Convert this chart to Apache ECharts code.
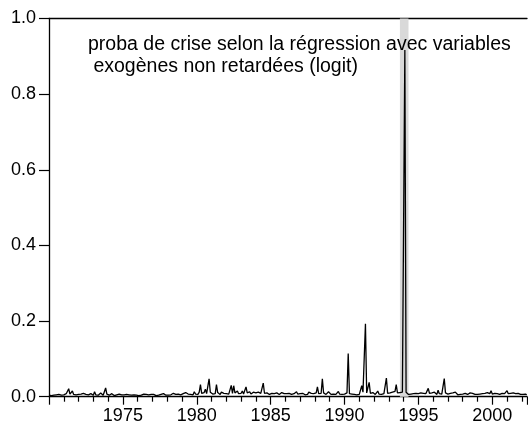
<!DOCTYPE html>
<html>
<head>
<meta charset="utf-8">
<script src="https://cdn.jsdelivr.net/npm/echarts@6/dist/echarts.min.js"></script>
<style>
  html, body { margin: 0; padding: 0; background: #fff; }
  #chart { width: 528px; height: 435px; }
</style>
</head>
<body>
<div id="chart"></div>
<script>
// probabilité mensuelle de crise (logit), janvier 1970 -> mai 2002
var startYear = 1970;
var p1970 = [0.004, 0.006, 0.003, 0.005, 0.004, 0.008, 0.005, 0.004, 0.006, 0.005, 0.004, 0.007];
var p1971 = [0.005, 0.004, 0.008, 0.006, 0.021, 0.007, 0.005, 0.015, 0.006, 0.010, 0.005, 0.004];
var p1972 = [0.006, 0.004, 0.007, 0.005, 0.009, 0.004, 0.006, 0.010, 0.005, 0.004, 0.008, 0.005];
var p1973 = [0.004, 0.013, 0.005, 0.007, 0.004, 0.006, 0.010, 0.005, 0.004, 0.009, 0.023, 0.007];
var p1974 = [0.006, 0.004, 0.005, 0.008, 0.004, 0.003, 0.006, 0.005, 0.004, 0.007, 0.004, 0.005];
var p1975 = [0.004, 0.005, 0.003, 0.006, 0.004, 0.005, 0.007, 0.004, 0.003, 0.005, 0.006, 0.004];
var p1976 = [0.005, 0.003, 0.006, 0.004, 0.005, 0.007, 0.004, 0.006, 0.003, 0.005, 0.004, 0.006];
var p1977 = [0.004, 0.006, 0.005, 0.003, 0.007, 0.004, 0.005, 0.006, 0.004, 0.008, 0.005, 0.004];
var p1978 = [0.006, 0.004, 0.007, 0.005, 0.004, 0.009, 0.005, 0.006, 0.004, 0.007, 0.010, 0.005];
var p1979 = [0.006, 0.008, 0.005, 0.011, 0.006, 0.007, 0.012, 0.006, 0.009, 0.005, 0.013, 0.007];
var p1980 = [0.008, 0.006, 0.012, 0.032, 0.009, 0.007, 0.011, 0.020, 0.008, 0.010, 0.047, 0.012];
var p1981 = [0.009, 0.007, 0.010, 0.008, 0.032, 0.011, 0.008, 0.006, 0.012, 0.007, 0.009, 0.006];
var p1982 = [0.008, 0.012, 0.007, 0.010, 0.030, 0.009, 0.029, 0.010, 0.007, 0.015, 0.008, 0.011];
var p1983 = [0.009, 0.015, 0.007, 0.012, 0.026, 0.010, 0.008, 0.013, 0.007, 0.010, 0.012, 0.008];
var p1984 = [0.010, 0.007, 0.012, 0.008, 0.009, 0.011, 0.036, 0.009, 0.007, 0.010, 0.008, 0.006];
var p1985 = [0.007, 0.009, 0.006, 0.008, 0.005, 0.010, 0.007, 0.006, 0.009, 0.011, 0.006, 0.008];
var p1986 = [0.006, 0.008, 0.005, 0.009, 0.007, 0.006, 0.010, 0.008, 0.006, 0.013, 0.007, 0.005];
var p1987 = [0.008, 0.006, 0.009, 0.007, 0.005, 0.008, 0.006, 0.012, 0.007, 0.009, 0.006, 0.008];
var p1988 = [0.007, 0.010, 0.026, 0.008, 0.006, 0.009, 0.047, 0.010, 0.007, 0.006, 0.009, 0.013];
var p1989 = [0.008, 0.006, 0.009, 0.007, 0.010, 0.006, 0.008, 0.014, 0.007, 0.009, 0.006, 0.008];
var p1990 = [0.007, 0.009, 0.010, 0.114, 0.008, 0.006, 0.007, 0.005, 0.006, 0.008, 0.005, 0.007];
var p1991 = [0.006, 0.010, 0.029, 0.012, 0.009, 0.193, 0.010, 0.012, 0.038, 0.009, 0.007, 0.011];
var p1992 = [0.008, 0.006, 0.010, 0.015, 0.007, 0.009, 0.006, 0.011, 0.008, 0.010, 0.049, 0.009];
var p1993 = [0.007, 0.010, 0.008, 0.012, 0.009, 0.014, 0.032, 0.010, 0.007, 0.011, 0.009, 0.012];
var p1994 = [0.015, 0.917, 0.012, 0.008, 0.006, 0.009, 0.007, 0.005, 0.008, 0.006, 0.009, 0.007];
var p1995 = [0.008, 0.006, 0.010, 0.007, 0.009, 0.012, 0.008, 0.010, 0.022, 0.009, 0.007, 0.010];
var p1996 = [0.008, 0.012, 0.009, 0.006, 0.017, 0.008, 0.010, 0.007, 0.009, 0.048, 0.010, 0.008];
var p1997 = [0.007, 0.011, 0.009, 0.006, 0.010, 0.008, 0.012, 0.007, 0.005, 0.009, 0.006, 0.008];
var p1998 = [0.007, 0.005, 0.009, 0.011, 0.006, 0.008, 0.010, 0.007, 0.009, 0.012, 0.006, 0.008];
var p1999 = [0.006, 0.009, 0.007, 0.010, 0.008, 0.005, 0.009, 0.007, 0.011, 0.006, 0.008, 0.016];
var p2000 = [0.007, 0.006, 0.009, 0.005, 0.008, 0.010, 0.006, 0.007, 0.009, 0.005, 0.008, 0.006];
var p2001 = [0.016, 0.008, 0.006, 0.009, 0.007, 0.010, 0.006, 0.008, 0.005, 0.009, 0.007, 0.006];
var p2002 = [0.008, 0.006, 0.009, 0.007, 0.005];

var proba = [].concat(p1970, p1971, p1972, p1973, p1974, p1975, p1976, p1977, p1978, p1979,
  p1980, p1981, p1982, p1983, p1984, p1985, p1986, p1987, p1988, p1989,
  p1990, p1991, p1992, p1993, p1994, p1995, p1996, p1997, p1998, p1999,
  p2000, p2001, p2002);

// période de crise (bande grise)
var crisisStart = 1993.75;
var crisisEnd = 1994.33;

var yTicks = [0, 0.2, 0.4, 0.6, 0.8, 1.0];
var xMin = 1970, xMax = 2002.35;

var titleLines = ['proba de crise selon la régression avec variables', ' exogènes non retardées (logit)'];

var chart = echarts.init(document.getElementById('chart'));

var seriesData = proba.map(function (v, i) {
  return [startYear + i / 12, v];
});

var fontFam = '"Liberation Sans", Arial, sans-serif';

chart.setOption({
  animation: false,
  grid: { left: 49, right: 1, top: 18.5, bottom: 38.3 },
  xAxis: [{
    type: 'value',
    min: xMin,
    max: xMax,
    interval: 5,
    axisLine: { lineStyle: { color: '#000', width: 1.3 } },
    axisTick: { show: true, length: 8, lineStyle: { color: '#000', width: 1.2 } },
    minorTick: { show: true, splitNumber: 5, length: 5, lineStyle: { color: '#000', width: 1.2 } },
    splitLine: { show: false },
    axisLabel: {
      showMinLabel: false,
      showMaxLabel: false,
      color: '#000',
      fontSize: 18,
      fontFamily: fontFam,
      margin: 10,
      formatter: function (v) { return String(v); }
    }
  }, {
    type: 'value',
    position: 'top',
    min: xMin,
    max: xMax,
    axisLine: { show: true, lineStyle: { color: '#000', width: 1.3 } },
    axisTick: { show: false },
    axisLabel: { show: false },
    splitLine: { show: false }
  }],
  yAxis: {
    type: 'value',
    min: yTicks[0],
    max: yTicks[yTicks.length - 1],
    interval: 0.2,
    axisLine: { show: true, lineStyle: { color: '#000', width: 1.3 } },
    axisTick: { show: true, length: 10, lineStyle: { color: '#000', width: 1.2 } },
    splitLine: { show: false },
    axisLabel: {
      color: '#000',
      fontSize: 18,
      fontFamily: fontFam,
      margin: 13,
      formatter: function (v) { return v.toFixed(1); }
    }
  },
  graphic: [{
    type: 'text',
    left: 88,
    top: 35,
    z: 100,
    style: {
      text: titleLines[0],
      fill: '#000',
      font: '19.5px ' + fontFam
    }
  }, {
    type: 'text',
    left: 88,
    top: 56.5,
    z: 100,
    style: {
      text: titleLines[1],
      fill: '#000',
      font: '19.5px ' + fontFam
    }
  }],
  series: [{
    type: 'line',
    xAxisIndex: 0,
    data: seriesData,
    showSymbol: false,
    lineStyle: { color: '#000', width: 1.3 },
    markArea: {
      silent: true,
      itemStyle: { color: '#d9d9d9' },
      data: [[{ xAxis: crisisStart }, { xAxis: crisisEnd }]]
    }
  }]
});
</script>
</body>
</html>
